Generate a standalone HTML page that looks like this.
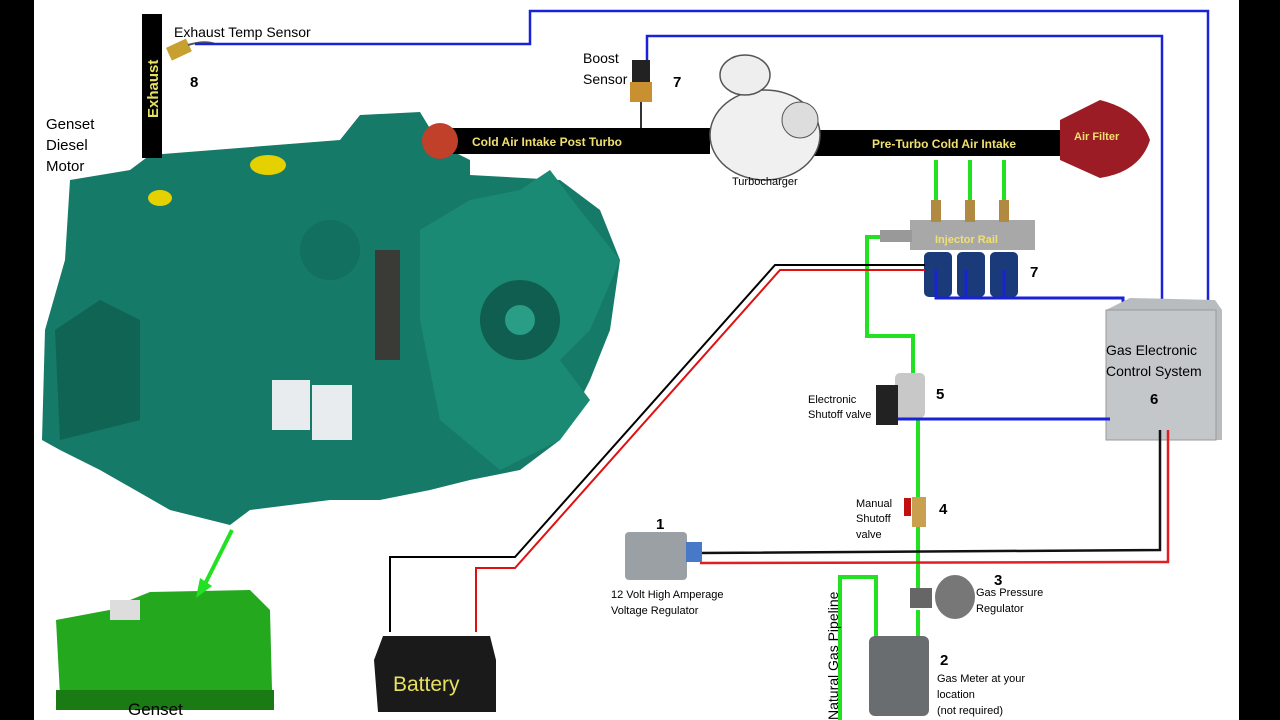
<!DOCTYPE html>
<html><head><meta charset="utf-8"><style>
html,body{margin:0;padding:0;background:#fff;}
svg{display:block;}
text{font-family:"Liberation Sans",sans-serif;}
</style></head><body>
<svg width="1280" height="720" viewBox="0 0 1280 720" xmlns="http://www.w3.org/2000/svg">
<rect width="1280" height="720" fill="#fff"/>
<rect x="0" y="0" width="34" height="720" fill="#000"/>
<rect x="1239" y="0" width="41" height="720" fill="#000"/>

<!-- Engine body -->
<g fill="#157a68">
<path d="M70 180 L130 170 L150 155 L340 140 L360 115 L420 112 L440 145 L470 160 L470 175 L560 180 L600 210 L620 260 L610 330 L590 380 L560 440 L520 470 L470 480 L430 490 L380 500 L330 500 L250 510 L230 525 L170 510 L100 470 L60 450 L42 440 L45 330 L65 260 Z"/>
</g>
<path d="M420 230 L470 200 L520 190 L550 170 L580 210 L620 260 L590 330 L560 360 L590 400 L560 440 L500 470 L440 420 L420 320 Z" fill="#1b8a74"/>
<circle cx="520" cy="320" r="40" fill="#0f5e4f"/>
<circle cx="520" cy="320" r="15" fill="#2a9d86"/>
<circle cx="330" cy="250" r="30" fill="#117060"/>
<rect x="375" y="250" width="25" height="110" fill="#3a3a36"/>
<rect x="272" y="380" width="38" height="50" fill="#e8ecef"/>
<rect x="312" y="385" width="40" height="55" fill="#e8ecef"/>
<ellipse cx="160" cy="198" rx="12" ry="8" fill="#e5d000"/>
<ellipse cx="268" cy="165" rx="18" ry="10" fill="#e5d000"/>
<path d="M100 300 L140 320 L140 420 L60 440 L55 330 Z" fill="#0f6454"/>
<!-- Exhaust -->
<rect x="142" y="14" width="20" height="144" fill="#000"/>
<text x="0" y="0" transform="translate(158,118) rotate(-90)" font-size="15" font-weight="bold" fill="#e8e060">Exhaust</text>
<rect x="168" y="43" width="22" height="14" fill="#c8a030" transform="rotate(-25 178 50)"/>
<path d="M188 45 Q205 40 215 44" stroke="#555" stroke-width="2" fill="none"/>
<text x="174" y="37" font-size="14">Exhaust Temp Sensor</text>
<text x="190" y="87" font-size="15" font-weight="bold">8</text>
<text x="46" y="129" font-size="15">Genset</text>
<text x="46" y="150" font-size="15">Diesel</text>
<text x="46" y="171" font-size="15">Motor</text>

<!-- blue top lines -->
<path d="M195 44 L530 44 L530 11 L1208 11 L1208 305" stroke="#1a22d8" stroke-width="2.5" fill="none"/>
<path d="M647 60 L647 36 L1162 36 L1162 305" stroke="#1a22d8" stroke-width="2.5" fill="none"/>

<!-- Intake pipes -->
<rect x="440" y="128" width="270" height="26" fill="#000"/>
<circle cx="440" cy="141" r="18" fill="#c0402a"/>
<text x="472" y="146" font-size="12" font-weight="bold" fill="#f0e070" font-family="Liberation Serif">Cold Air Intake Post Turbo</text>
<rect x="810" y="130" width="250" height="26" fill="#000"/>
<text x="872" y="148" font-size="12" font-weight="bold" fill="#f0e070" font-family="Liberation Serif">Pre-Turbo Cold Air Intake</text>
<path d="M1060 120 L1100 100 Q1140 110 1150 140 Q1140 172 1100 178 L1060 160 Z" fill="#9b1c24"/>
<text x="1074" y="140" font-size="11" font-weight="bold" fill="#f0e070" font-family="Liberation Serif">Air Filter</text>
<!-- turbo -->
<ellipse cx="765" cy="135" rx="55" ry="45" fill="#f0f0f0" stroke="#555" stroke-width="1.5"/>
<ellipse cx="745" cy="75" rx="25" ry="20" fill="#eee" stroke="#555" stroke-width="1.5"/>
<ellipse cx="800" cy="120" rx="18" ry="18" fill="#ddd" stroke="#555"/>
<text x="732" y="185" font-size="11">Turbocharger</text>
<!-- boost sensor -->
<rect x="632" y="60" width="18" height="22" fill="#222"/>
<rect x="630" y="82" width="22" height="20" fill="#c89030"/>
<line x1="641" y1="102" x2="641" y2="128" stroke="#333" stroke-width="2"/>
<text x="583" y="63" font-size="14">Boost</text>
<text x="583" y="84" font-size="14">Sensor</text>
<text x="673" y="87" font-size="15" font-weight="bold">7</text>

<!-- green lines -->
<g stroke="#22e022" stroke-width="4" fill="none">
<path d="M936 160 L936 205"/><path d="M970 160 L970 205"/><path d="M1004 160 L1004 205"/>
<path d="M888 237 L867 237 L867 336 L913 336 L913 375"/>
<path d="M918 420 L918 590"/>
<path d="M918 610 L918 648"/>
<path d="M840 720 L840 577 L876 577 L876 645"/>
</g>
<!-- injector rail -->
<rect x="910" y="220" width="125" height="30" fill="#a8a8a8"/>
<rect x="880" y="230" width="32" height="12" fill="#999"/>
<rect x="931" y="200" width="10" height="22" fill="#b08a40"/>
<rect x="965" y="200" width="10" height="22" fill="#b08a40"/>
<rect x="999" y="200" width="10" height="22" fill="#b08a40"/>
<text x="935" y="243" font-size="11" font-weight="bold" fill="#f0e070" font-family="Liberation Serif">Injector Rail</text>
<rect x="924" y="252" width="28" height="45" rx="5" fill="#1a3a7a"/>
<rect x="957" y="252" width="28" height="45" rx="5" fill="#1a3a7a"/>
<rect x="990" y="252" width="28" height="45" rx="5" fill="#1a3a7a"/>
<text x="1030" y="277" font-size="15" font-weight="bold">7</text>
<path d="M936 270 L936 298 L1123 298 L1123 310 M966 270 L966 298 M1004 270 L1004 298" stroke="#1a22d8" stroke-width="3" fill="none"/>

<!-- ECU -->
<path d="M1106 310 L1130 298 L1215 300 L1222 310 L1222 440 L1210 440 L1115 440 L1106 430 Z" fill="#b8bcbf"/>
<rect x="1106" y="310" width="110" height="130" fill="#c4c7ca" stroke="#999"/>
<text x="1106" y="355" font-size="14">Gas Electronic</text>
<text x="1106" y="376" font-size="14">Control System</text>
<text x="1150" y="404" font-size="15" font-weight="bold">6</text>

<!-- shutoff valve -->
<rect x="895" y="373" width="30" height="45" rx="5" fill="#c8c8c8"/>
<rect x="876" y="385" width="22" height="40" fill="#222"/>
<text x="808" y="403" font-size="11">Electronic</text>
<text x="808" y="418" font-size="11">Shutoff valve</text>
<text x="936" y="399" font-size="15" font-weight="bold">5</text>
<path d="M898 419 L1110 419" stroke="#1a22d8" stroke-width="3"/>

<!-- manual valve -->
<rect x="912" y="497" width="14" height="30" fill="#c8a050"/>
<rect x="904" y="498" width="7" height="18" fill="#c01010"/>
<text x="856" y="507" font-size="11">Manual</text>
<text x="856" y="522" font-size="11">Shutoff</text>
<text x="856" y="538" font-size="11">valve</text>
<text x="939" y="514" font-size="15" font-weight="bold">4</text>

<!-- wires -->
<g fill="none" stroke-width="2">
<path d="M390 632 L390 557 L515 557 L775 265 L925 265" stroke="#000"/>
<path d="M476 632 L476 568 L515 568 L780 270 L925 270" stroke="#e01010"/>
<path d="M700 553 L1160 550 L1160 430" stroke="#111" stroke-width="2.5"/>
<path d="M700 563 L1168 562 L1168 430" stroke="#e02020" stroke-width="2.5"/>
</g>
<!-- voltage regulator -->
<rect x="625" y="532" width="62" height="48" rx="4" fill="#9aa0a4"/>
<rect x="686" y="542" width="16" height="20" fill="#4878c8"/>
<text x="656" y="529" font-size="15" font-weight="bold">1</text>
<text x="611" y="598" font-size="11">12 Volt High Amperage</text>
<text x="611" y="614" font-size="11">Voltage Regulator</text>

<!-- pressure regulator -->
<ellipse cx="955" cy="597" rx="20" ry="22" fill="#777"/>
<rect x="910" y="588" width="22" height="20" fill="#666"/>
<text x="994" y="585" font-size="15" font-weight="bold">3</text>
<text x="976" y="596" font-size="11">Gas Pressure</text>
<text x="976" y="612" font-size="11">Regulator</text>

<!-- gas meter -->
<rect x="869" y="636" width="60" height="80" rx="6" fill="#6a6d70"/>
<text x="940" y="665" font-size="15" font-weight="bold">2</text>
<text x="937" y="682" font-size="11">Gas Meter at your</text>
<text x="937" y="698" font-size="11">location</text>
<text x="937" y="714" font-size="11">(not required)</text>
<text x="0" y="0" transform="translate(838,720) rotate(-90)" font-size="14">Natural Gas Pipeline</text>

<!-- battery -->
<path d="M383 636 L490 636 L496 660 L496 712 L378 712 L374 660 Z" fill="#1a1a1a"/>
<text x="393" y="691" font-size="21" fill="#e8e060">Battery</text>

<!-- genset -->
<path d="M56 620 L120 608 L130 600 L150 592 L250 590 L270 610 L272 690 L60 695 Z" fill="#23a81e"/>
<rect x="56" y="690" width="218" height="20" fill="#1a7a14"/>
<rect x="110" y="600" width="30" height="20" fill="#ddd"/>
<text x="128" y="715" font-size="17">Genset</text>
<path d="M232 530 L202 590" stroke="#22e022" stroke-width="4"/>
<path d="M196 598 L200 578 L212 586 Z" fill="#22e022"/>
</svg>
</body></html>
